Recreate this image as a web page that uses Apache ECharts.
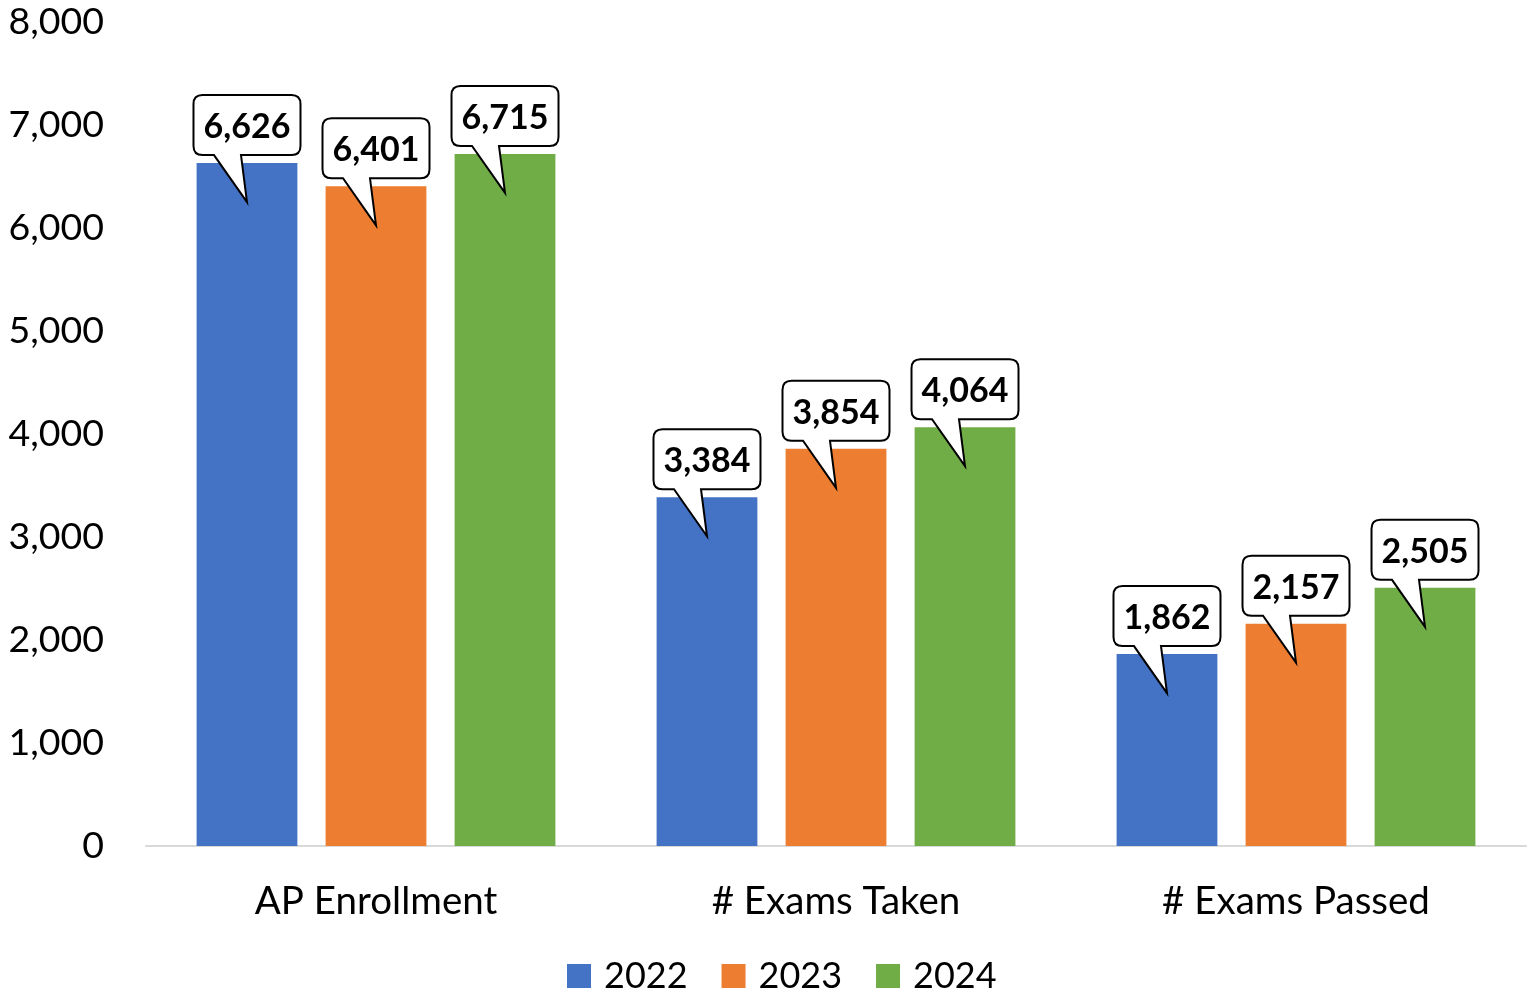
<!DOCTYPE html>
<html>
<head>
<meta charset="utf-8">
<script src="https://cdn.jsdelivr.net/npm/echarts@6/dist/echarts.min.js"></script>
<style>
html,body{margin:0;padding:0;background:#fff;}
#chart{width:1529px;height:995px;}
</style>
</head>
<body>
<div id="chart"></div>
<script>
const categories = ['AP Enrollment', '# Exams Taken', '# Exams Passed'];
const seriesNames = ['2022', '2023', '2024'];
const values2022 = [6626, 3384, 1862];
const values2023 = [6401, 3854, 2157];
const values2024 = [6715, 4064, 2505];
const yTicks = [0, 1000, 2000, 3000, 4000, 5000, 6000, 7000, 8000];

const colors = ['#4472C4', '#ED7D31', '#70AD47'];
const allValues = [values2022, values2023, values2024];
const FONT = 'Lato, "Open Sans", sans-serif';
const CAT_GAP = 0.22, BAR_GAP = 0.28;

const labelData = [];
allValues.forEach((arr, s) => arr.forEach((v, c) => labelData.push([c, v, s])));

function fmt(v) { return Number(v).toLocaleString('en-US'); }

function renderCallout(params, api) {
  const c = api.value(0), v = api.value(1), s = api.value(2);
  const pt = api.coord([c, v]);
  const band = api.size([1, 0])[0];
  const bw = band * (1 - CAT_GAP) / (3 + 2 * BAR_GAP);
  const cx = pt[0] + (s - 1) * bw * (1 + BAR_GAP);
  const barTop = pt[1];
  const W = 107, H = 60, r = 9;
  const L = cx - W / 2, R = cx + W / 2;
  const B = barTop - 8, T = B - H;
  const x1 = cx - 33, x2 = cx - 6;
  const tipX = cx, tipY = barTop + 39;
  const d = `M${L + r},${T} H${R - r} Q${R},${T} ${R},${T + r} V${B - r} Q${R},${B} ${R - r},${B} ` +
            `H${x2} L${tipX},${tipY} L${x1},${B} H${L + r} Q${L},${B} ${L},${B - r} V${T + r} Q${L},${T} ${L + r},${T} Z`;
  return {
    type: 'group',
    children: [
      { type: 'path', shape: { pathData: d }, style: { fill: '#fff', stroke: '#000', lineWidth: 2 } },
      { type: 'text', style: { text: fmt(v), x: cx, y: (T + B) / 2 + 2, align: 'center', verticalAlign: 'middle',
          fontSize: 34, fontWeight: 'bold', fontFamily: FONT, fill: '#000' } }
    ]
  };
}

const chart = echarts.init(document.getElementById('chart'), null, { renderer: 'canvas' });
const barSeries = seriesNames.map((name, i) => ({
  name: name,
  type: 'bar',
  data: allValues[i],
  itemStyle: { color: colors[i] },
  barGap: (BAR_GAP * 100) + '%',
  barCategoryGap: (CAT_GAP * 100) + '%',
  silent: true,
  z: 2
}));

chart.setOption({
  animation: false,
  textStyle: { fontFamily: FONT },
  grid: { left: 146, right: 3, top: 21.5, bottom: 149, containLabel: false },
  legend: {
    data: seriesNames,
    left: 567,
    top: 958,
    padding: 0,
    icon: 'rect',
    itemWidth: 24,
    itemHeight: 24,
    itemGap: 34,
    textStyle: { fontSize: 36, color: '#000', fontFamily: FONT, padding: [0, 0, 0, 8] }
  },
  xAxis: {
    type: 'category',
    data: categories,
    axisLine: { lineStyle: { color: '#d9d9d9', width: 2 } },
    axisTick: { show: false },
    axisLabel: { fontSize: 38.5, color: '#000', margin: 36, fontFamily: FONT }
  },
  yAxis: {
    type: 'value',
    min: yTicks[0],
    max: yTicks[yTicks.length - 1],
    interval: yTicks[1] - yTicks[0],
    splitLine: { show: false },
    axisLine: { show: false },
    axisTick: { show: false },
    axisLabel: { fontSize: 37.5, color: '#000', margin: 42, fontFamily: FONT, formatter: v => fmt(v) }
  },
  series: barSeries.concat([{
    type: 'custom',
    name: 'labels',
    data: labelData,
    encode: { x: 0, y: 1 },
    renderItem: renderCallout,
    silent: true,
    z: 10
  }])
});
</script>
</body>
</html>
